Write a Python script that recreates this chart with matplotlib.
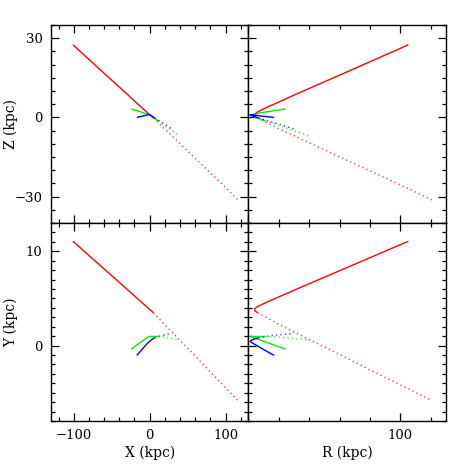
import numpy as np
import matplotlib
matplotlib.use("Agg")
import matplotlib.pyplot as plt
from matplotlib.ticker import MultipleLocator

plt.rcParams['font.family'] = ['DejaVu Serif']
plt.rcParams['mathtext.fontset'] = 'dejavuserif'

# ---- data: tracks (X, Y, Z in kpc), solid part and dotted part ----
red_solid_x = [-101, -60, -30, -15, -8, -4, -1, 2, 5]
red_solid_y = [11.06, 8.13, 5.99, 4.91, 4.41, 4.13, 3.91, 3.70, 3.48]
red_solid_z = [27.5, 16.7, 8.9, 4.9, 3.1, 2.05, 1.26, 0.48, -0.3]
red_dot_x = [5, 20, 40, 60, 80, 100, 116.5]
red_dot_y = [3.48, 2.2, 0.55, -1.1, -2.8, -4.45, -5.85]
red_dot_z = [-0.3, -4.4, -9.9, -15.5, -21.0, -26.5, -31.3]

green_solid_x = [-24.2, -15, -8, -4.4, -1, 0, 5, 11]
green_solid_y = [-0.38, 0.16, 0.57, 0.78, 0.96, 0.97, 0.97, 0.96]
green_solid_z = [3.2, 2.4, 1.75, 1.3, 1.0, 0.9, -0.1, -1.3]
green_dot_x = [11, 17, 25, 32, 39.6]
green_dot_y = [0.96, 0.93, 0.82, 0.70, 0.60]
green_dot_z = [-1.3, -2.5, -4.1, -5.5, -7.1]

blue_solid_x = [-17, -12, -8.8, -5, -2.2, 0, 2, 4.4, 6.6]
blue_solid_y = [-1.05, -0.6, -0.3, 0.05, 0.3, 0.46, 0.58, 0.72, 0.82]
blue_solid_z = [0.0, 0.3, 0.5, 0.8, 1.05, 1.0, 0.7, 0.25, -0.15]
blue_dot_x = [6.6, 11, 16, 22, 29.5]
blue_dot_y = [0.82, 0.95, 1.07, 1.17, 1.27]
blue_dot_z = [-0.15, -1.0, -1.9, -2.9, -4.4]

tracks = [
    ("red", red_solid_x, red_solid_y, red_solid_z, red_dot_x, red_dot_y, red_dot_z),
    ("#00ee00", green_solid_x, green_solid_y, green_solid_z, green_dot_x, green_dot_y, green_dot_z),
    ("blue", blue_solid_x, blue_solid_y, blue_solid_z, blue_dot_x, blue_dot_y, blue_dot_z),
]

x_lim = (-130, 130)
r_lim = (0, 130)
z_lim = (-40, 35)
y_lim = (-8, 13)

W = H = 471
fig = plt.figure(figsize=(W / 100, H / 100), dpi=100)

def px_axes(x0, y0, x1, y1):
    return fig.add_axes([x0 / W, 1 - y1 / H, (x1 - x0) / W, (y1 - y0) / H])

ax_xz = px_axes(51, 25, 248.3, 223)
ax_rz = px_axes(248.3, 25, 446, 223)
ax_xy = px_axes(51, 223, 248.3, 421)
ax_ry = px_axes(248.3, 223, 446, 421)

dot_style = (0, (1, 2.2))

for color, sx, sy, sz, dx, dy, dz in tracks:
    sx, sy, sz = map(np.asarray, (sx, sy, sz))
    dx, dy, dz = map(np.asarray, (dx, dy, dz))
    sr = np.sqrt(sx**2 + sy**2 + sz**2)
    dr = np.sqrt(dx**2 + dy**2 + dz**2)
    for ax, a_s, b_s, a_d, b_d in [
        (ax_xz, sx, sz, dx, dz),
        (ax_rz, sr, sz, dr, dz),
        (ax_xy, sx, sy, dx, dy),
        (ax_ry, sr, sy, dr, dy),
    ]:
        ax.plot(a_s, b_s, color=color, lw=1.0, solid_capstyle='butt')
        ax.plot(a_d, b_d, color=color, lw=1.0, ls=dot_style, alpha=0.75)

for ax in (ax_xz, ax_xy):
    ax.set_xlim(*x_lim)
    ax.xaxis.set_major_locator(MultipleLocator(100))
    ax.xaxis.set_minor_locator(MultipleLocator(20))
for ax in (ax_rz, ax_ry):
    ax.set_xlim(*r_lim)
    ax.xaxis.set_major_locator(MultipleLocator(100))
    ax.xaxis.set_minor_locator(MultipleLocator(20))
for ax in (ax_xz, ax_rz):
    ax.set_ylim(*z_lim)
    ax.yaxis.set_major_locator(MultipleLocator(30))
    ax.yaxis.set_minor_locator(MultipleLocator(5))
for ax in (ax_xy, ax_ry):
    ax.set_ylim(*y_lim)
    ax.yaxis.set_major_locator(MultipleLocator(10))
    ax.yaxis.set_minor_locator(MultipleLocator(1))

for ax in (ax_xz, ax_rz, ax_xy, ax_ry):
    ax.tick_params(which='both', direction='in', top=True, right=True,
                   labelsize=9.5, width=0.9, colors='black', pad=6)
    ax.tick_params(which='major', length=6)
    ax.tick_params(which='minor', length=3)
    for s in ax.spines.values():
        s.set_linewidth(1.0)

ax_xz.tick_params(labelbottom=False)
ax_rz.tick_params(labelbottom=False, labelleft=False)
ax_ry.tick_params(labelleft=False)
ax_ry.set_xticks([0, 100])
ax_ry.set_xticklabels(['', '100'])

ax_xz.set_ylabel('Z (kpc)', fontsize=10)
ax_xy.set_ylabel('Y (kpc)', fontsize=10)
ax_xy.set_xlabel('X (kpc)', fontsize=10)
ax_ry.set_xlabel('R (kpc)', fontsize=10)
for ax in (ax_xz, ax_xy):
    ax.yaxis.set_label_coords(-0.165, 0.5)
for ax in (ax_xy, ax_ry):
    ax.xaxis.set_label_coords(0.5, -0.125)

fig.savefig('out.png', dpi=100)
